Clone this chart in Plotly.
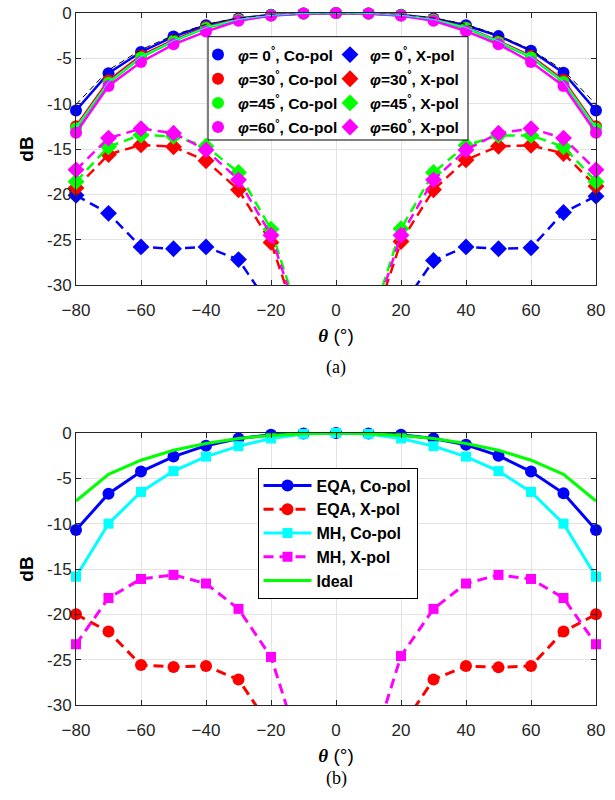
import plotly.graph_objects as go

theta = [-80, -70, -60, -50, -40, -30, -20, -10, 0, 10, 20, 30, 40, 50, 60, 70, 80]

# (a) co-pol
co_phi0 = [-10.75, -6.65, -4.3, -2.6, -1.35, -0.6, -0.2, -0.05, 0.0, -0.05, -0.2, -0.6, -1.35, -2.55, -4.15, -6.6, -10.75]
co_phi30 = [-12.5, -7.45, -4.7, -3.0, -1.55, -0.7, -0.25, -0.05, 0.0, -0.05, -0.25, -0.7, -1.6, -3.1, -4.75, -7.4, -12.5]
co_phi45 = [-12.7, -7.7, -4.9, -3.1, -1.65, -0.75, -0.25, -0.05, 0.0, -0.05, -0.25, -0.75, -1.65, -3.2, -4.9, -7.6, -12.7]
co_phi60 = [-13.2, -8.05, -5.4, -3.45, -2.05, -0.85, -0.3, -0.05, 0.0, -0.05, -0.3, -0.85, -2.0, -3.45, -5.4, -8.05, -13.2]
ref_black = [-10.1, -6.3, -4.05, -2.45, -1.25, -0.55, -0.2, -0.05, 0.0, -0.05, -0.2, -0.55, -1.25, -2.45, -4.05, -6.3, -10.1]
ref_cyan = [-12.6, -7.6, -4.8, -3.05, -1.6, -0.72, -0.25, -0.05, 0.0, -0.05, -0.25, -0.72, -1.6, -3.1, -4.8, -7.55, -12.6]
# (a) x-pol
x_phi0 = [-20.1, -22.1, -25.8, -26.0, -25.8, -27.2, -32.5, -40, -50, -40, -32.5, -27.3, -25.8, -26.0, -25.9, -22.0, -20.2]
x_phi30 = [-19.3, -15.6, -14.55, -14.75, -16.3, -19.5, -25.3, -36, -50, -36, -25.2, -19.5, -16.2, -14.7, -14.6, -15.5, -19.1]
x_phi45 = [-18.6, -14.75, -13.45, -13.6, -14.7, -17.6, -23.85, -35, -50, -35, -23.8, -17.6, -14.6, -13.5, -13.5, -14.75, -18.6]
x_phi60 = [-17.3, -13.8, -12.75, -13.25, -15.1, -18.4, -24.5, -35.5, -50, -35.5, -24.5, -18.4, -15.1, -13.25, -12.75, -13.8, -17.3]

# (b)
eqa_co = [-10.7, -6.7, -4.25, -2.6, -1.4, -0.6, -0.2, -0.05, 0.0, -0.05, -0.2, -0.6, -1.3, -2.5, -4.25, -6.65, -10.7]
eqa_x = [-20.0, -21.9, -25.6, -25.8, -25.7, -27.2, -32.5, -40, -50, -40, -32.5, -27.2, -25.7, -25.85, -25.7, -21.9, -20.0]
mh_co = [-15.85, -10.0, -6.5, -4.2, -2.6, -1.45, -0.6, -0.1, 0.0, -0.1, -0.6, -1.45, -2.6, -4.2, -6.5, -10.0, -15.85]
mh_x = [-23.3, -18.2, -16.1, -15.65, -16.6, -19.4, -24.7, -36, -50, -36, -24.6, -19.4, -16.6, -15.65, -16.1, -18.2, -23.3]
ideal = [-7.5, -4.55, -3.0, -1.9, -1.15, -0.6, -0.27, -0.07, 0.0, -0.07, -0.27, -0.6, -1.15, -1.9, -3.0, -4.55, -7.5]

BLUE, RED, GREEN, MAG, CYAN = "#0000FF", "#FF0000", "#00FF00", "#FF00FF", "#00FFFF"
DASH = "10px,6px"
YMIN = -30

fig = go.Figure()


def visible(vals):
    return [v if v >= YMIN else None for v in vals]


def co_trace(y, color, xa, ya, symbol="circle", size=12, width=2.5):
    fig.add_trace(go.Scatter(x=theta, y=y, mode="lines+markers", xaxis=xa, yaxis=ya,
                             line=dict(color=color, width=width),
                             marker=dict(color=color, symbol=symbol, size=size),
                             cliponaxis=False, showlegend=False, hoverinfo="skip"))


def x_trace(y, color, xa, ya, symbol="diamond", size=13, width=2.5):
    fig.add_trace(go.Scatter(x=theta, y=y, mode="lines", xaxis=xa, yaxis=ya,
                             line=dict(color=color, width=width, dash=DASH),
                             showlegend=False, hoverinfo="skip"))
    fig.add_trace(go.Scatter(x=theta, y=visible(y), mode="markers", xaxis=xa, yaxis=ya,
                             marker=dict(color=color, symbol=symbol, size=size),
                             cliponaxis=False, showlegend=False, hoverinfo="skip"))


# ---- (a)
for y, c in [(x_phi0, BLUE), (x_phi30, RED), (x_phi45, GREEN), (x_phi60, MAG)]:
    x_trace(y, c, "x", "y")
for y, c in [(co_phi0, BLUE), (co_phi30, RED), (co_phi45, GREEN), (co_phi60, MAG)]:
    co_trace(y, c, "x", "y")
fig.add_trace(go.Scatter(x=theta, y=ref_black, mode="lines", xaxis="x", yaxis="y",
                         line=dict(color="black", width=1, dash="6px,4px"), showlegend=False, hoverinfo="skip"))
fig.add_trace(go.Scatter(x=theta, y=ref_cyan, mode="lines", xaxis="x", yaxis="y",
                         line=dict(color=CYAN, width=1), showlegend=False, hoverinfo="skip"))

phis = [" 0", "30", "45", "60"]
cols = [BLUE, RED, GREEN, MAG]
for i, (p, c) in enumerate(zip(phis, cols)):
    fig.add_trace(go.Scatter(x=[None], y=[None], mode="markers", xaxis="x", yaxis="y",
                             marker=dict(color=c, symbol="circle", size=12),
                             name=f"<b><i>φ</i>={p}<sup>°</sup>, Co-pol</b>",
                             legend="legend", legendgroup=f"c{i}"))
for i, (p, c) in enumerate(zip(phis, cols)):
    fig.add_trace(go.Scatter(x=[None], y=[None], mode="markers", xaxis="x", yaxis="y",
                             marker=dict(color=c, symbol="diamond", size=13),
                             name=f"<b><i>φ</i>={p}<sup>°</sup>, X-pol</b>",
                             legend="legend2", legendgroup=f"x{i}"))

# ---- (b)
co_trace(eqa_co, BLUE, "x2", "y2", width=3)
x_trace(eqa_x, RED, "x2", "y2", symbol="circle", size=12, width=3)
co_trace(mh_co, CYAN, "x2", "y2", symbol="square", size=10, width=3)
x_trace(mh_x, MAG, "x2", "y2", symbol="square", size=10, width=3)
fig.add_trace(go.Scatter(x=theta, y=ideal, mode="lines", xaxis="x2", yaxis="y2",
                         line=dict(color=GREEN, width=3), showlegend=False, hoverinfo="skip"))

leg_b = [
    ("EQA, Co-pol", BLUE, "circle", 12, "solid"),
    ("EQA, X-pol", RED, "circle", 12, DASH),
    ("MH, Co-pol", CYAN, "square", 10, "solid"),
    ("MH, X-pol", MAG, "square", 10, DASH),
    ("Ideal", GREEN, None, 0, "solid"),
]
for name, c, sym, sz, dash in leg_b:
    if sym:
        fig.add_trace(go.Scatter(x=[None], y=[None], mode="lines+markers", xaxis="x2", yaxis="y2",
                                 line=dict(color=c, width=3, dash=dash),
                                 marker=dict(color=c, symbol=sym, size=sz),
                                 name=f"<b>{name}</b>", legend="legend3"))
    else:
        fig.add_trace(go.Scatter(x=[None], y=[None], mode="lines", xaxis="x2", yaxis="y2",
                                 line=dict(color=c, width=3, dash=dash),
                                 name=f"<b>{name}</b>", legend="legend3"))

# ---- layout helpers
L, R, T, B = 76, 19, 13, 95
W, H = 615, 800
PW, PH = W - L - R, H - T - B


def px(xp):
    return (xp - L) / PW


def py(yp):
    return (H - B - yp) / PH


AX = "#262626"
GRID = "#E3E3E3"
tickfont = dict(family="Liberation Sans, Arial", size=17, color=AX)
xtitle = dict(text='<span style="font-family:Liberation Serif"><b><i>θ</i></b></span> (°)',
              font=dict(family="Liberation Sans, Arial", size=19, color="black"), standoff=9)
ytitle = dict(text="<b>dB</b>", font=dict(family="Liberation Sans, Arial", size=19, color="black"), standoff=8)

xcommon = dict(range=[-80, 80], tickvals=[-80, -60, -40, -20, 0, 20, 40, 60, 80],
               showgrid=True, gridcolor=GRID, gridwidth=1, zeroline=False,
               showline=True, linecolor=AX, linewidth=1, mirror="ticks",
               ticks="inside", ticklen=5, tickcolor=AX, tickfont=tickfont, title=xtitle,
               ticklabelstandoff=10)
ycommon = dict(range=[-30, 0], tickvals=[0, -5, -10, -15, -20, -25, -30],
               ticktext=["0", "-5", "-10", "-15", "-20", "-25", "-30"],
               showgrid=True, gridcolor=GRID, gridwidth=1, zeroline=False,
               showline=True, linecolor=AX, linewidth=1, mirror="ticks",
               ticks="inside", ticklen=5, tickcolor=AX, tickfont=tickfont, title=ytitle)

top_y0 = py(285)
bot_y1 = py(433)

legfont = dict(family="Liberation Sans, Arial", size=15.5, color="black")
legfont3 = dict(family="Liberation Sans, Arial", size=16, color="black")

fig.update_layout(
    width=W, height=H,
    margin=dict(l=L, r=R, t=T, b=B, autoexpand=False),
    paper_bgcolor="white", plot_bgcolor="white",
    xaxis=dict(domain=[0, 1], anchor="y", **xcommon),
    yaxis=dict(domain=[top_y0, 1], anchor="x", **ycommon),
    xaxis2=dict(domain=[0, 1], anchor="y2", **xcommon),
    yaxis2=dict(domain=[0, bot_y1], anchor="x2", **ycommon),
    legend=dict(x=px(198), y=py(38), xanchor="left", yanchor="top", bgcolor="rgba(0,0,0,0)",
                borderwidth=0, font=legfont, tracegroupgap=1, itemwidth=30),
    legend2=dict(x=px(330), y=py(38), xanchor="left", yanchor="top", bgcolor="rgba(0,0,0,0)",
                 borderwidth=0, font=legfont, tracegroupgap=1, itemwidth=30),
    legend3=dict(x=px(257.5), y=py(467.5), xanchor="left", yanchor="top", bgcolor="white",
                 bordercolor="black", borderwidth=1, font=legfont3, itemwidth=48,
                 tracegroupgap=0),
    shapes=[dict(type="rect", xref="paper", yref="paper", x0=px(208), x1=px(468),
                 y0=py(140), y1=py(36.7), line=dict(color="black", width=1),
                 fillcolor="white", layer="above")],
    annotations=[
        dict(text="(a)", x=0.5, y=py(367), xref="paper", yref="paper", showarrow=False,
             yanchor="middle", font=dict(family="Liberation Serif", size=18, color="black")),
        dict(text="(b)", x=0.5, y=py(778), xref="paper", yref="paper", showarrow=False,
             yanchor="middle", font=dict(family="Liberation Serif", size=18, color="black")),
    ],
)

fig.write_html("out.html")
